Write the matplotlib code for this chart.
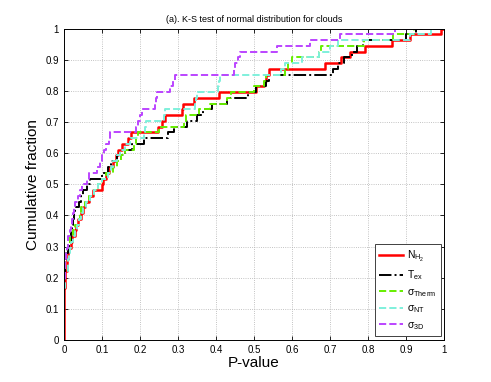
"""
K-S test of normal distribution for clouds -- cumulative P-value fractions.
"""

import numpy as np
import matplotlib
matplotlib.use("Agg")
import matplotlib.pyplot as plt

plt.rcParams["font.family"] = ["Liberation Sans", "DejaVu Sans"]
plt.rcParams["mathtext.fontset"] = "custom"
plt.rcParams["mathtext.rm"] = "Liberation Sans"
plt.rcParams["mathtext.it"] = "Liberation Sans:italic"

# ── Data: sorted P-values per parameter (54 clouds) ──────────────────────────
P_NH2 = [0.0, 0.0, 0.0, 0.0, 0.0, 0.0, 0.0005, 0.001, 0.001, 0.002, 0.002, 0.003,
         0.009, 0.009, 0.010, 0.012, 0.018, 0.022, 0.030, 0.033, 0.038, 0.044,
         0.051, 0.056, 0.067, 0.077, 0.100, 0.104, 0.110, 0.119, 0.130, 0.137,
         0.143, 0.152, 0.169, 0.176, 0.248, 0.257, 0.266, 0.310, 0.312, 0.342,
         0.409, 0.505, 0.525, 0.532, 0.538, 0.687, 0.729, 0.751, 0.792, 0.862,
         0.909, 0.991]

P_TEX = [0.0, 0.0, 0.0, 0.0, 0.0, 0.0, 0.0, 0.0005, 0.001, 0.001, 0.002, 0.002, 0.002,
         0.003, 0.006, 0.010, 0.014, 0.018, 0.020, 0.022, 0.025, 0.028, 0.030,
         0.040, 0.045, 0.050, 0.060, 0.070, 0.100, 0.115, 0.125, 0.140, 0.160,
         0.180, 0.210, 0.275, 0.290, 0.323, 0.350, 0.365, 0.390, 0.430, 0.485,
         0.505, 0.530, 0.540, 0.708, 0.720, 0.735, 0.757, 0.770, 0.787, 0.900,
         0.925]

P_THERM = [0.0, 0.0, 0.0, 0.0, 0.0, 0.0, 0.0, 0.0005, 0.001, 0.001, 0.002, 0.002,
           0.003, 0.003, 0.004, 0.008, 0.012, 0.015, 0.025, 0.030, 0.040, 0.042,
           0.045, 0.055, 0.065, 0.080, 0.090, 0.100, 0.110, 0.130, 0.140, 0.150,
           0.160, 0.185, 0.190, 0.195, 0.250, 0.315, 0.320, 0.355, 0.385, 0.430,
           0.440, 0.500, 0.525, 0.530, 0.580, 0.590, 0.600, 0.670, 0.675, 0.788,
           0.866, 0.919]

P_NT = [0.0, 0.0, 0.0, 0.0, 0.0, 0.0, 0.0005, 0.001, 0.001, 0.002, 0.002, 0.003,
        0.010, 0.012, 0.014, 0.016, 0.020, 0.025, 0.030, 0.035, 0.040, 0.045,
        0.050, 0.058, 0.070, 0.080, 0.090, 0.100, 0.115, 0.125, 0.130, 0.140,
        0.148, 0.160, 0.175, 0.210, 0.212, 0.215, 0.262, 0.265, 0.345, 0.347,
        0.350, 0.405, 0.408, 0.410, 0.570, 0.580, 0.625, 0.670, 0.700, 0.720,
        0.910, 0.965]

P_3D = [0.0, 0.0, 0.0, 0.0, 0.0, 0.0, 0.0, 0.0005, 0.001, 0.001, 0.002, 0.002, 0.003,
        0.004, 0.006, 0.008, 0.010, 0.012, 0.016, 0.020, 0.022, 0.025, 0.027,
        0.030, 0.038, 0.042, 0.048, 0.060, 0.065, 0.088, 0.095, 0.100, 0.105,
        0.112, 0.118, 0.121, 0.190, 0.195, 0.200, 0.205, 0.240, 0.242, 0.245,
        0.279, 0.288, 0.292, 0.446, 0.450, 0.459, 0.462, 0.560, 0.647, 0.726,
        0.871]

LABELS = [r"N$_{\mathrm{H_2}}$", r"T$_{\mathrm{ex}}$", r"σ$_{\mathrm{Therm}}$",
          r"σ$_{\mathrm{NT}}$", r"σ$_{\mathrm{3D}}$"]
TICKS = np.round(np.arange(0, 1.01, 0.1), 1)
TICK_LABELS = ["0", "0.1", "0.2", "0.3", "0.4", "0.5", "0.6", "0.7", "0.8", "0.9", "1"]

# ── Styles ────────────────────────────────────────────────────────────────────
STYLES = [
    dict(color="#ff0000", ls="-", lw=1.8),
    dict(color="#000000", ls="-.", lw=1.4),
    dict(color="#66ee00", ls="--", lw=1.4),
    dict(color="#7ff0dc", ls="--", lw=1.4),
    dict(color="#bb44ff", ls="--", lw=1.4),
]


def ecdf(values):
    xs = np.sort(np.asarray(values, dtype=float))
    n = len(xs)
    x = np.concatenate([[0.0], xs, [1.0]])
    y = np.concatenate([[0.0], np.arange(1, n + 1) / n, [1.0]])
    return x, y


fig = plt.figure(figsize=(4.91, 3.82), dpi=100)
ax = fig.add_axes([0.13, 0.11, 0.775, 0.815])

for data, label, st in zip([P_NH2, P_TEX, P_THERM, P_NT, P_3D], LABELS, STYLES):
    x, y = ecdf(data)
    ax.step(x, y, where="post", label=label, **st)

ax.set_xlim(0, 1)
ax.set_ylim(0, 1)
ax.set_xticks(TICKS)
ax.set_yticks(TICKS)
ax.set_xticklabels(TICK_LABELS)
ax.set_yticklabels(TICK_LABELS)
ax.tick_params(direction="in", top=True, right=True, labelsize=7, length=3, width=0.6)
ax.grid(True, ls=":", color="#b0b0b0", lw=0.6)
for sp in ax.spines.values():
    sp.set_linewidth(0.7)

ax.set_xlabel("P-value", fontsize=11, labelpad=1)
ax.set_ylabel("Cumulative fraction", fontsize=11, labelpad=4)
ax.set_title("(a). K-S test of normal distribution for clouds", fontsize=6.5, pad=5)

leg = ax.legend(loc="lower right", fontsize=7.5, fancybox=False, framealpha=1,
                edgecolor="#404040", handlelength=2.3, handletextpad=0.35,
                labelspacing=0.45, borderpad=0.45, borderaxespad=0.35)
leg.get_frame().set_linewidth(0.7)

fig.savefig("out.png", dpi=100)
